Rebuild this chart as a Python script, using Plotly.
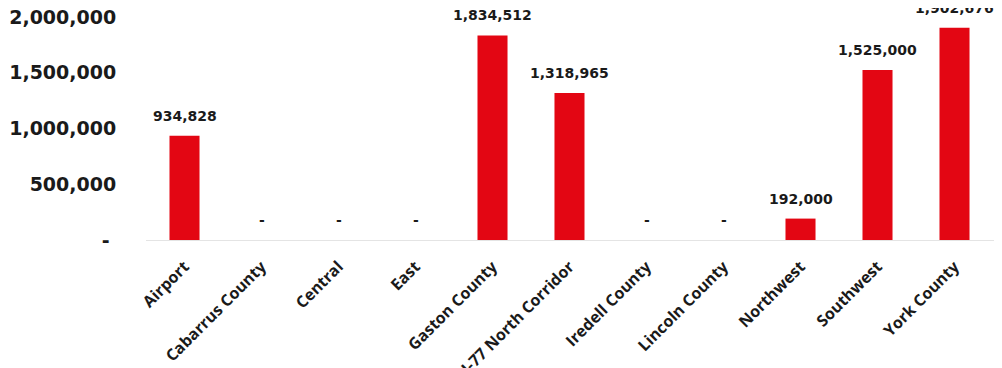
import plotly.graph_objects as go

categories = ["Airport", "Cabarrus County", "Central", "East", "Gaston County",
              "I-77 North Corridor", "Iredell County", "Lincoln County",
              "Northwest", "Southwest", "York County"]
values = [934828, 0, 0, 0, 1834512, 1318965, 0, 0, 192000, 1525000, 1902676]

y_tickvals = [0, 500000, 1000000, 1500000, 2000000]
y_ticktext = ["-\u00a0", "500,000", "1,000,000", "1,500,000", "2,000,000"]

label_texts = [f"{v:,}" if v else "-" for v in values]

fig = go.Figure()
fig.add_trace(go.Bar(
    x=categories, y=values,
    marker=dict(color="#E30613", line=dict(width=0)),
    hoverinfo="skip",
))

for c, v, t in zip(categories, values, label_texts):
    fig.add_annotation(
        x=c, y=v, text=t, showarrow=False, yanchor="bottom", yshift=10,
        font=dict(family="DejaVu Sans", size=14, color="#1a1a1a", weight="bold"),
    )

fig.update_layout(
    width=994, height=360,
    margin=dict(l=138, r=6, t=9, b=128),
    paper_bgcolor="white", plot_bgcolor="white",
    bargap=0.61,
    showlegend=False,
    xaxis=dict(
        automargin=False,
        tickangle=-45,
        tickfont=dict(family="Open Sans", size=16, color="#1a1a1a", weight="bold"),
        showline=True, linecolor="#e4e4e4", linewidth=1,
        ticks="outside", ticklen=10, tickcolor="rgba(0,0,0,0)",
        showgrid=False,
        ticklabeloverflow="allow",
    ),
    yaxis=dict(
        automargin=False,
        range=[0, 2000000],
        tickvals=y_tickvals, ticktext=y_ticktext,
        tickfont=dict(family="DejaVu Sans", size=19, color="#1a1a1a", weight="bold"),
        showgrid=False, zeroline=False, showline=False,
        ticks="outside", ticklen=25, tickcolor="rgba(0,0,0,0)",
        ticklabeloverflow="allow",
    ),
)

fig.write_html("out.html")
